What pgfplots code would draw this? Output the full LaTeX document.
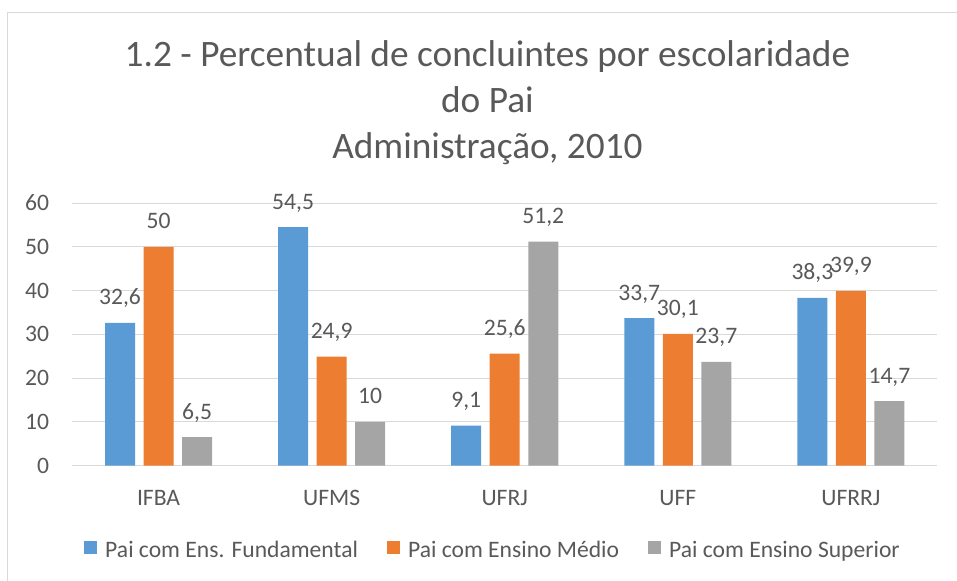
\documentclass[border=0pt]{standalone}
\usepackage{fontspec}
\setmainfont{Carlito}
\usepackage{pgfplots}
\pgfplotsset{compat=1.18}
\definecolor{cblue}{HTML}{5B9BD5}
\definecolor{corange}{HTML}{ED7D31}
\definecolor{cgray}{HTML}{A5A5A5}
\definecolor{txt}{HTML}{595959}
\definecolor{gridc}{HTML}{D9D9D9}
\begin{document}
\begin{tikzpicture}
\useasboundingbox (0,0) rectangle (717.75pt,435.75pt);
\draw[gridc, line width=0.75pt] (5.25pt,0) -- (5.25pt,426pt) -- (717.75pt,426pt);
\node[anchor=base, text=txt, inner sep=0pt, font=\fontsize{28}{33}\selectfont] at (365.6pt,385.5pt) {1.2 - Percentual de concluintes por escolaridade};
\node[anchor=base, text=txt, inner sep=0pt, font=\fontsize{28}{33}\selectfont] at (365.6pt,351.4pt) {do Pai};
\node[anchor=base, text=txt, inner sep=0pt, font=\fontsize{28}{33}\selectfont] at (365.6pt,316.9pt) {Administração, 2010};
\begin{axis}[
  at={(54pt,86.6pt)}, anchor=south west, scale only axis,
  width=649.1pt, height=196.9pt,
  xmin=-0.5, xmax=4.5, ymin=0, ymax=60,
  ytick={0,10,...,60},
  xtick={0,1,2,3,4}, xticklabels={IFBA,UFMS,UFRJ,UFF,UFRRJ},
  axis line style={draw=none},
  major tick length=0pt,
  ymajorgrids, major grid style={gridc, line width=0.75pt},
  /pgf/number format/.cd, use comma, 1000 sep={}, assume math mode=true,
  /pgfplots/.cd,
  ticklabel style={font=\fontsize{17.7}{21}\selectfont, text=txt},
  yticklabel style={anchor=east, inner sep=0pt, xshift=-17pt},
  xticklabel style={anchor=base, inner sep=0pt, yshift=-30pt},
  ybar, bar width=22.5pt,
  nodes near coords,
  every node near coord/.append style={font=\fontsize{17.7}{21}\selectfont, text=txt, anchor=base, inner sep=0pt, yshift=13.5pt},
  legend columns=3,
  legend image code/.code={\fill[#1] (0pt,-3pt) rectangle (9.75pt,6.75pt);},
  legend style={draw=none, fill=none, at={(0.4853,-0.323)}, anchor=center,
    font=\fontsize{17.7}{21}\selectfont, text=txt, nodes={inner sep=0pt},
    /tikz/every odd column/.append style={column sep=6pt},
    /tikz/every even column/.append style={column sep=21.75pt}},
]
\addplot[fill=cblue, draw=none, bar shift=-28.9pt] coordinates {(0,32.6) (1,54.5) (2,9.1) (3,33.7) (4,38.3)};
\addplot[fill=corange, draw=none, bar shift=0pt] coordinates {(0,50) (1,24.9) (2,25.6) (3,30.1) (4,39.9)};
\addplot[fill=cgray, draw=none, bar shift=28.9pt] coordinates {(0,6.5) (1,10) (2,51.2) (3,23.7) (4,14.7)};
\legend{Pai com Ens. Fundamental, Pai com Ensino Médio, Pai com Ensino Superior}
\end{axis}
\end{tikzpicture}
\end{document}
